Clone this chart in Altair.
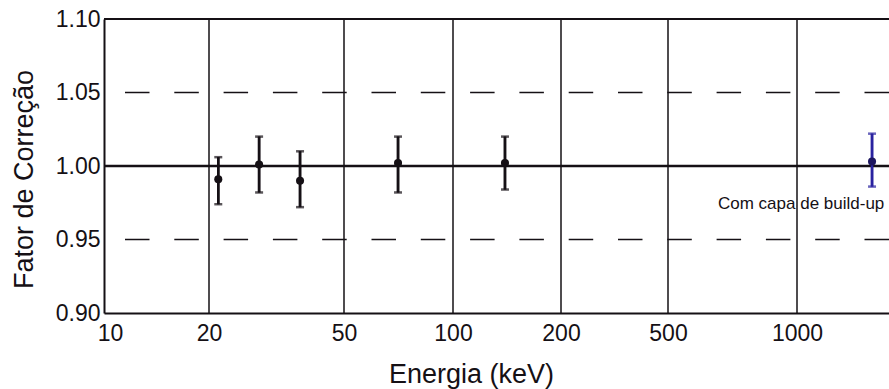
import altair as alt
import pandas as pd

# ---- data ----
energy = [21.3, 28.1, 37.1, 70.5, 139.6, 1497]
factor = [0.991, 1.001, 0.990, 1.002, 1.002, 1.003]
err_lo = [0.974, 0.982, 0.972, 0.982, 0.984, 0.986]
err_hi = [1.006, 1.020, 1.010, 1.020, 1.020, 1.022]
point_colors = ["#151015", "#151015", "#151015", "#151015", "#151015", "#2a22a0"]
dot_colors = ["#151015", "#151015", "#151015", "#151015", "#151015", "#1d1660"]

x_tick_values = [10, 20, 50, 100, 200, 500, 1000]
x_grid_values = [20, 50, 100, 200, 500, 1000]
y_tick_values = [0.90, 0.95, 1.00, 1.05, 1.10]
solid_refs = [1.10]
center_ref = [1.00]
dashed_refs = [1.05, 0.95]

label_text = ["Com capa de build-up"]
label_energy = [654]
label_factor = [0.9705]

# scan's (slightly irregular) log axis: anchors of the original figure
x_domain = [9.589, 20, 50, 100, 200, 500, 1000, 1640]
x_range = [0, 105, 240, 349, 457, 564, 693, 785]

W, H = 785, 294
FONT = "Liberation Sans"
INK = "#151015"

pts = pd.DataFrame({"E": energy, "F": factor, "lo": err_lo, "hi": err_hi,
                    "c": point_colors, "d": dot_colors})

xs = alt.Scale(type="log", domain=x_domain, range=x_range, nice=False, zero=False)
ys = alt.Scale(domain=[0.9, 1.1], nice=False, zero=False)

x_axis = alt.Axis(values=x_tick_values, format="d", grid=False, ticks=False, tickSize=0,
                  domainColor=INK, domainWidth=2, labelFont=FONT, labelFontSize=23,
                  labelColor=INK, labelPadding=27, labelBaseline="alphabetic",
                  labelFlush=False, labelOverlap=False,
                  title="Energia (keV)", titleFont=FONT, titleFontSize=27,
                  titleFontWeight="normal", titleColor=INK, titleX=367, titleY=69,
                  titleAlign="center", titleBaseline="alphabetic")
y_axis = alt.Axis(values=y_tick_values, format=".2f", grid=False, ticks=False, tickSize=0,
                  domainColor=INK, domainWidth=2, labelFont=FONT, labelFontSize=23,
                  labelColor=INK, labelPadding=4, labelBaseline="middle",
                  labelFlush=False, labelOverlap=False,
                  title="Fator de Correção", titleFont=FONT, titleFontSize=27,
                  titleFontWeight="normal", titleColor=INK, titleX=-72, titleY=160,
                  titleAngle=-90, titleAlign="center", titleBaseline="alphabetic")

base = alt.Chart(pts)

errbars = base.mark_rule(strokeWidth=2.5).encode(
    x=alt.X("E:Q", scale=xs, axis=x_axis),
    y=alt.Y("lo:Q", scale=ys, axis=y_axis),
    y2="hi:Q",
    color=alt.Color("c:N", scale=None),
)
cap_lo = base.mark_tick(orient="horizontal", size=8, thickness=2.5).encode(
    x=alt.X("E:Q", scale=xs), y=alt.Y("lo:Q", scale=ys), color=alt.Color("c:N", scale=None))
cap_hi = base.mark_tick(orient="horizontal", size=8, thickness=2.5).encode(
    x=alt.X("E:Q", scale=xs), y=alt.Y("hi:Q", scale=ys), color=alt.Color("c:N", scale=None))
dots = base.mark_circle(size=65, opacity=1).encode(
    x=alt.X("E:Q", scale=xs), y=alt.Y("F:Q", scale=ys), color=alt.Color("d:N", scale=None))

vgrid = alt.Chart(pd.DataFrame({"E": x_grid_values})).mark_rule(
    color=INK, strokeWidth=1.5).encode(x=alt.X("E:Q", scale=xs))
top_line = alt.Chart(pd.DataFrame({"F": solid_refs})).mark_rule(
    color=INK, strokeWidth=2).encode(y=alt.Y("F:Q", scale=ys))
mid_line = alt.Chart(pd.DataFrame({"F": center_ref})).mark_rule(
    color=INK, strokeWidth=2.5).encode(y=alt.Y("F:Q", scale=ys))
dash_lines = alt.Chart(pd.DataFrame({"F": dashed_refs})).mark_rule(
    color=INK, strokeWidth=1.5, strokeDash=[24.5, 24.8]).encode(y=alt.Y("F:Q", scale=ys))

label = alt.Chart(pd.DataFrame({"E": label_energy, "F": label_factor, "t": label_text})).mark_text(
    align="left", baseline="alphabetic", font=FONT, fontSize=17, color=INK
).encode(x=alt.X("E:Q", scale=xs), y=alt.Y("F:Q", scale=ys), text="t:N")

chart = alt.layer(
    errbars, vgrid, top_line, dash_lines, mid_line, errbars, cap_lo, cap_hi, dots, label
).properties(
    width=W, height=H,
    autosize=alt.AutoSizeParams(type="none"),
    padding={"left": 104, "top": 19, "right": 0, "bottom": 76},
    background="white",
).configure_view(stroke=None)

chart.save("out.html", embed_options={"renderer": "svg", "actions": False})
